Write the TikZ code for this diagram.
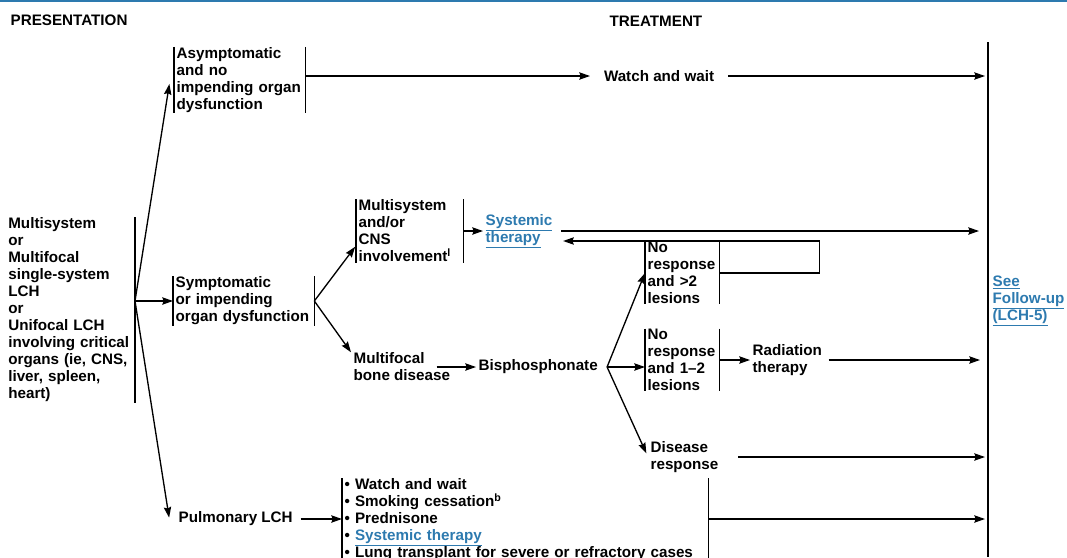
\documentclass[tikz,border=0pt]{standalone}
\usepackage{fontspec}
\setmainfont{Liberation Sans}
\usetikzlibrary{arrows.meta}

\definecolor{lchblue}{RGB}{45,122,175}
\newcommand{\lnk}[1]{\textcolor{lchblue}{\underline{#1}}}

\tikzset{
  lbl/.style={font=\fontsize{11.4pt}{12.75pt}\selectfont\bfseries, inner xsep=1.5pt, inner ysep=0pt, align=left},
  brk/.style={lbl, text width=#1, anchor=west},
  tofu/.style={->, shorten >=2.25pt},
}

\begin{document}
\begin{tikzpicture}[x=0.75pt, y=-0.75pt, >={Stealth[length=8pt,width=5.5pt,inset=1pt]}, line width=1pt]
\useasboundingbox (0,0) rectangle (1067,557);

% Headings
\draw[lchblue, line width=1.5pt] (0,1) -- (1067,1);
\node[lbl, anchor=west] (pres) at (8,20) {PRESENTATION};
\node[lbl, anchor=west] (treat) at (607,21) {TREATMENT};

% Presentation
\node[brk=93pt, anchor=east] (lch) at (135,310) {Multisystem\\or\\Multifocal\\single-system\\LCH\\or\\Unifocal LCH\\involving critical\\organs (ie, CNS,\\liver, spleen,\\heart)};

% Bracketed boxes
\node[brk=94.5pt] (asym) at (174,80) {Asymptomatic\\and no\\impending organ\\dysfunction};
\node[brk=102pt] (symp) at (173,301) {Symptomatic\\or impending\\organ dysfunction};
\node[brk=76.5pt] (multi) at (356,231) {Multisystem\\and/or\\CNS\\involvement\textsuperscript{l}};
\node[brk=51.75pt] (nrA) at (645,273) {No\\response\\and >2\\lesions};
\node[brk=51.75pt] (nrB) at (645,360) {No\\response\\and 1–2\\lesions};
\node[brk=270.75pt, anchor=north west] (bul) at (342,478) {• Watch and wait\\• Smoking cessation\textsuperscript{b}\\• Prednisone\\• \lnk{Systemic therapy}\\• Lung transplant for severe or refractory cases};

% Plain labels
\node[lbl, anchor=west, inner xsep=10pt] (watch) at (590,76) {Watch and wait};
\node[lbl, anchor=west] (sys) at (483,231) {\lnk{Systemic}\\\lnk{therapy}};
\node[lbl, anchor=west] (mfb) at (351,367) {Multifocal\\bone disease};
\node[lbl, anchor=west] (bis) at (476,367) {Bisphosphonate};
\node[lbl, anchor=west] (rad) at (750,360) {Radiation\\therapy};
\node[lbl, anchor=west] (dis) at (648,457) {Disease\\response};
\node[lbl, anchor=west] (pul) at (176,519) {Pulmonary LCH};
\node[lbl, anchor=west] (fup) at (990,301) {\lnk{See}\\\lnk{Follow-up}\\\lnk{(LCH-5)}};

% Bars
\coordinate (fuT) at (988,42);
\coordinate (fuB) at (988,557);
\draw (fuT) -- (fuB);
\draw (lch.north east) -- (lch.south east);
\foreach \b in {asym,symp,multi,nrA,nrB,bul}
  \draw (\b.north west) -- (\b.south west) (\b.north east) -- (\b.south east);

% Presentation fork
\coordinate (f1) at (lch.east |- symp.west);
\draw[->] (f1) -- (symp.west);
\draw[->, shorten >=3pt] (f1) -- ([xshift=-3pt]asym.west);
\draw[->, shorten >=1pt] (f1) -- ([xshift=-5pt]pul.west);

% Asymptomatic
\draw[->] (asym.east |- watch.west) -- (watch.west);
\draw[tofu] (watch.east) -- (watch.east -| fuT);

% Symptomatic
\draw[->, shorten >=1pt] (symp.east) -- ([yshift=-11pt]multi.west);
\draw[->] (symp.east) -- (mfb.north west);
\draw[->] (multi.east) -- (sys.west);
\draw[tofu, shorten <=4.5pt, shorten >=6.75pt] (sys.east) -- (sys.east -| fuT);
\draw[->, shorten >=6pt] (nrA.east) -- ++(100,0) |- ([yshift=-7.5pt]sys.east);

% Bone disease
\draw[->] ([xshift=-12pt]mfb.east) -- (bis.west);
\coordinate (f3) at ([xshift=5pt]bis.east);
\draw[->] (f3) -- (nrA.west);
\draw[->] (f3) -- (f3 -| nrB.west);
\draw[->, shorten >=3pt] (f3) -- (dis.west);
\draw[->] (nrB.east) -- (rad.west);
\draw[tofu, shorten <=3pt, shorten >=6pt] (rad.east) -- (rad.east -| fuT);
\draw[tofu, shorten <=13pt] (dis.east) -- (dis.east -| fuT);

% Pulmonary
\draw[->, shorten <=4pt] (pul.east) -- (pul.east -| bul.west);
\draw[tofu] (bul.east |- pul.east) -- (pul.east -| fuT);

\end{tikzpicture}
\end{document}
